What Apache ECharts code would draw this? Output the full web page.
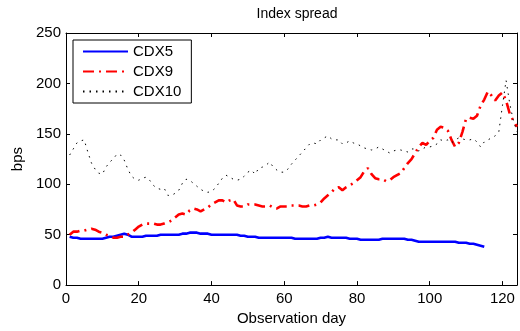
<!DOCTYPE html>
<html>
<head>
<meta charset="utf-8">
<script src="https://cdn.jsdelivr.net/npm/echarts@6/dist/echarts.min.js"></script>
<style>html,body{margin:0;padding:0;background:#fff}#c{width:520px;height:331px}</style>
</head>
<body>
<div id="c"></div>
<script>
var titleText = 'Index spread';
var xName = 'Observation day';
var yName = 'bps';
var seriesNames = ['CDX5', 'CDX9', 'CDX10'];
var xTicks = [0, 20, 40, 60, 80, 100, 120];
var yTicks = [0, 50, 100, 150, 200, 250];

var cdx5 = [48,47,47,46,46,46,46,46,46,46,47,48,48,49,50,51,50,48,48,48,
  48,49,49,49,49,50,50,50,50,50,50,51,51,52,52,52,51,51,51,50,
  50,50,50,50,50,50,50,49,49,48,48,48,47,47,47,47,47,47,47,47,
  47,47,46,46,46,46,46,46,46,47,47,48,47,47,47,47,47,46,46,46,
  45,45,45,45,45,45,46,46,46,46,46,46,46,45,45,44,43,43,43,43,
  43,43,43,43,43,43,43,42,42,42,41,41,40,39,38];
var cdx9 = [50,53,53,54,54,55,56,55,53,52,50,49,47,47,48,48,50,52,55,58,
  60,61,61,61,60,60,61,62,64,67,70,71,70,74,76,75,73,75,77,80,
  82,84,84,82,84,85,79,78,78,80,80,80,79,78,78,79,77,76,78,78,
  78,79,79,79,78,78,79,79,80,82,86,89,92,96,97,94,97,99,101,104,
  107,113,116,110,106,105,105,103,104,107,109,111,116,121,125,131,137,141,139,143,
  146,154,157,156,153,144,137,141,152,165,166,165,168,178,184,192,188,183,188,191,
  183,170,163,157];
var cdx10 = [129,135,141,143,144,132,121,115,111,110,117,122,125,130,129,124,115,108,105,104,
  106,107,104,99,96,95,96,89,89,91,94,101,105,104,101,98,95,93,92,93,
  96,101,106,109,107,105,104,105,108,112,114,110,116,117,119,122,117,114,112,112,
  115,120,124,128,132,136,140,141,140,144,146,148,145,144,144,140,141,143,141,140,
  138,136,135,134,135,137,135,133,131,133,134,134,133,132,135,135,133,135,137,137,
  138,140,144,143,144,141,144,146,145,144,144,145,142,137,142,144,146,148,152,178,
  203,180,163,152];

function pairs(arr) { return arr.map(function (v, i) { return [i + 1, v]; }); }

var font = 'Liberation Sans, Arial, Helvetica, sans-serif';
var chart = echarts.init(document.getElementById('c'), null, {renderer: 'canvas'});

function baseX(pos, show) {
  return {
    type: 'value', position: pos, min: 0, max: 124, interval: 20,
    axisLine: {show: true, onZero: false, lineStyle: {color: '#000', width: 1}},
    axisTick: {show: true, inside: true, length: 4, lineStyle: {color: '#000'}},
    axisLabel: {show: show, color: '#000', fontSize: 15, fontFamily: font, margin: 6,
      formatter: function (v) { return xTicks.indexOf(v) >= 0 ? String(v) : ''; }},
    splitLine: {show: false}
  };
}
function baseY(pos, show) {
  return {
    type: 'value', position: pos, min: 0, max: 250, interval: 50,
    axisLine: {show: true, onZero: false, lineStyle: {color: '#000', width: 1}},
    axisTick: {show: true, inside: true, length: 4, lineStyle: {color: '#000'}},
    axisLabel: {show: show, color: '#000', fontSize: 15, fontFamily: font, margin: 5,
      formatter: function (v) { return yTicks.indexOf(v) >= 0 ? String(v) : ''; }},
    splitLine: {show: false}
  };
}

var x0 = baseX('bottom', true);
x0.name = xName; x0.nameLocation = 'middle'; x0.nameGap = 24;
x0.nameTextStyle = {color: '#000', fontSize: 15, fontFamily: font};
var y0 = baseY('left', true);
y0.name = yName; y0.nameLocation = 'middle'; y0.nameGap = 36;
y0.nameTextStyle = {color: '#000', fontSize: 15, fontFamily: font};

chart.setOption({
  animation: false,
  backgroundColor: '#fff',
  title: {text: titleText, left: 292, top: 2, textAlign: 'center',
    textStyle: {color: '#000', fontSize: 14, fontWeight: 'normal', fontFamily: font}},
  grid: {left: 66, right: 1, top: 33, bottom: 43, containLabel: false},
  legend: {
    show: true, orient: 'vertical', left: 73, top: 40, itemWidth: 45, itemHeight: 14, itemGap: 5,
    padding: [4, 10, 4, 9], borderColor: '#000', borderWidth: 1, backgroundColor: '#fff',
    itemStyle: {opacity: 0},
    textStyle: {color: '#000', fontSize: 15, fontFamily: font},
    data: seriesNames.slice()
  },
  xAxis: [x0, baseX('top', false)],
  yAxis: [y0, baseY('right', false)],
  series: [
    {name: seriesNames[0], type: 'line', data: pairs(cdx5), showSymbol: false, symbol: 'none',
      color: '#0000ff', lineStyle: {color: '#0000ff', width: 2.6}},
    {name: seriesNames[1], type: 'line', data: pairs(cdx9), showSymbol: false, symbol: 'none',
      color: '#ff0000', lineStyle: {color: '#ff0000', width: 2.6, type: [11, 5, 2, 5]}},
    {name: seriesNames[2], type: 'line', data: pairs(cdx10), showSymbol: false, symbol: 'none',
      color: '#000', lineStyle: {color: '#000', width: 1, type: [1.5, 5]}}
  ]
});
</script>
</body>
</html>
